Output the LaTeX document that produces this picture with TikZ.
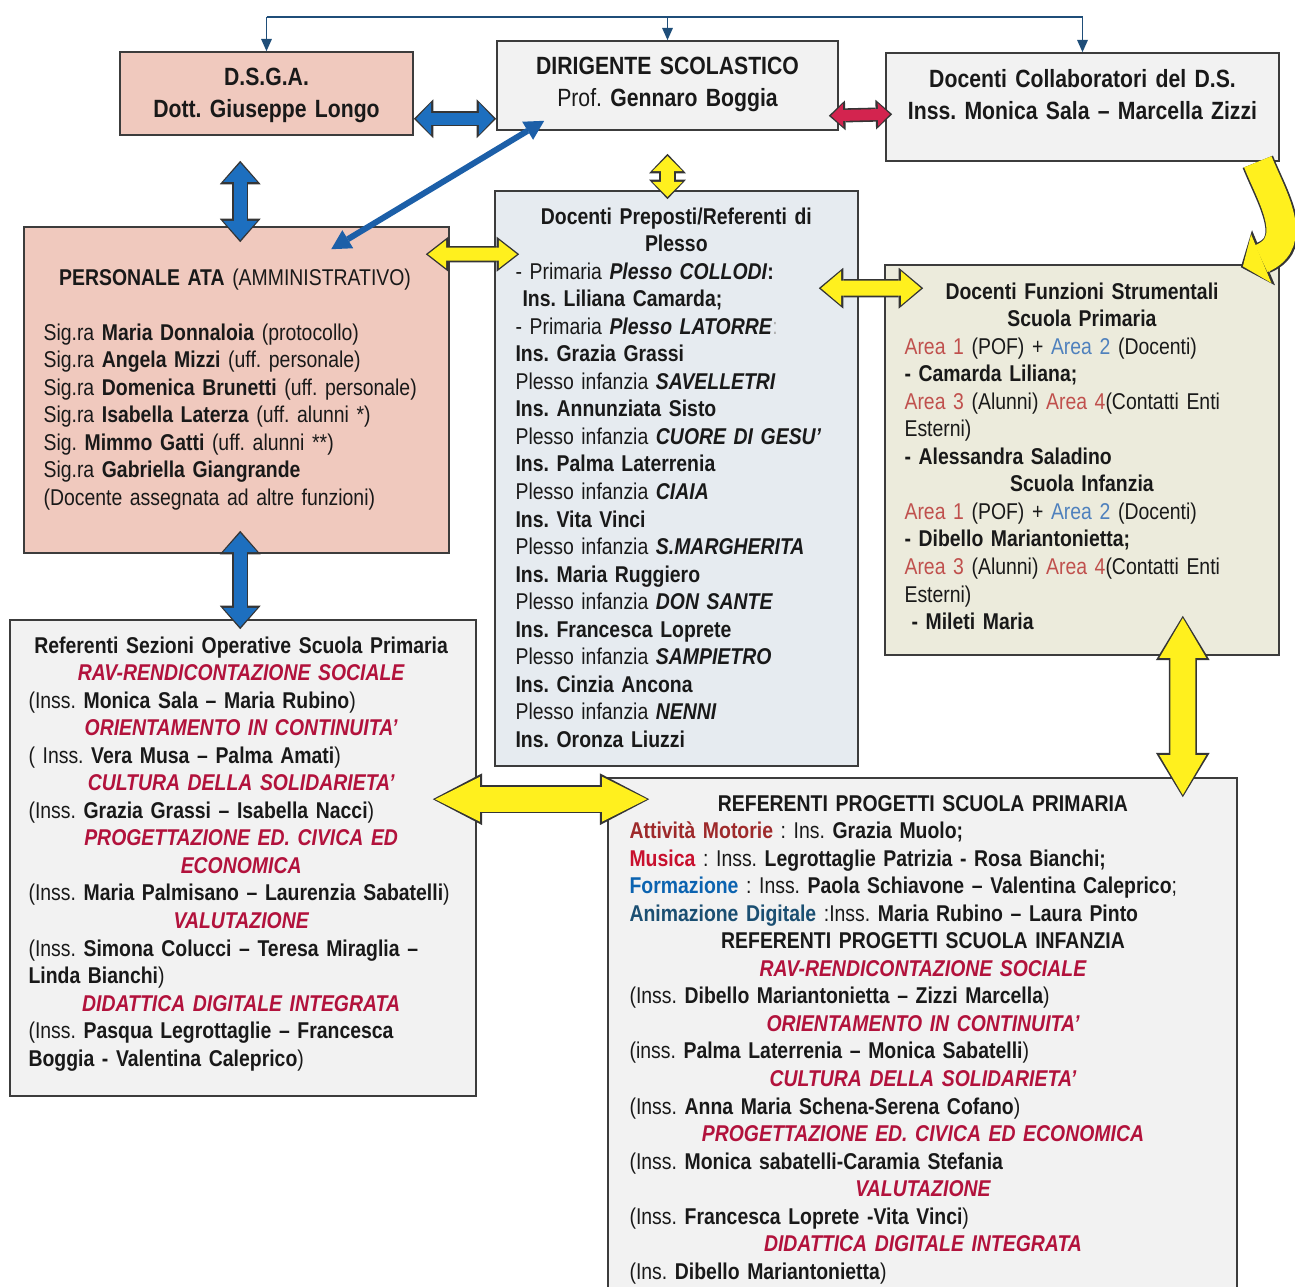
\documentclass[tikz,border=0pt]{standalone}
\usepackage{fontspec}
\setmainfont{Liberation Sans}[FakeStretch=0.85]
\usetikzlibrary{positioning,fit,calc,arrows.meta}

\definecolor{pinkfill}{HTML}{F0C9BE}
\definecolor{grayfill}{HTML}{F2F2F2}
\definecolor{prepfill}{HTML}{E6EBF0}
\definecolor{funzfill}{HTML}{ECEBDC}
\definecolor{boxline}{HTML}{3C3C3C}
\definecolor{outl}{HTML}{353535}
\definecolor{hdred}{HTML}{B2123C}
\definecolor{areared}{HTML}{C0504D}
\definecolor{areablue}{HTML}{4F81BD}
\definecolor{motorie}{HTML}{9E2A2B}
\definecolor{musica}{HTML}{C8102E}
\definecolor{formaz}{HTML}{0B63B0}
\definecolor{anim}{HTML}{1B4F72}
\definecolor{busblue}{HTML}{1F4E79}
\definecolor{fatblue}{HTML}{1D6FBF}
\definecolor{diagblue}{HTML}{1C5FA8}
\definecolor{fatyellow}{HTML}{FFF01E}
\definecolor{fatred}{HTML}{D3244F}

\frenchspacing
\newcommand{\ctrline}[1]{\makebox[\linewidth][c]{#1}}
\newcommand{\fillline}[1]{\makebox[\linewidth][s]{#1}}
\newcommand{\redhead}[1]{\ctrline{\color{hdred}\bfseries\itshape #1}}
\newcommand{\fatlink}[6]{%
  \pgfmathsetmacro\fw{#2*0.567}%
  \pgfmathsetmacro\fhw{#3*0.567}%
  \pgfmathsetmacro\fhl{#4*0.567}%
  \pgfmathsetmacro\ow{\fw+1.8}%
  \pgfmathsetmacro\ohw{\fhw+4}%
  \pgfmathsetmacro\ohl{\fhl+2.6}%
  \draw[draw=outl, line width=\ow pt,
    {Triangle[length=\ohl pt,width=\ohw pt,line width=0pt]}-{Triangle[length=\ohl pt,width=\ohw pt,line width=0pt]}] #5 -- #6;
  \draw[draw=#1, line width=\fw pt, shorten <=1.3pt, shorten >=1.3pt,
    {Triangle[length=\fhl pt,width=\fhw pt,line width=0pt]}-{Triangle[length=\fhl pt,width=\fhw pt,line width=0pt]}] #5 -- #6;
}

\begin{document}
\begin{tikzpicture}[x=0.02cm, y=-0.02cm,
    box/.style={draw=boxline, line width=0.9pt, inner sep=0pt},
    txt/.style={inner sep=0pt, align=left, text=black!90, font=\fontsize{13}{15.67}\selectfont},
    toptxt/.style={inner sep=0pt, align=center, text=black!90, font=\fontsize{14.2}{18.1}\selectfont\bfseries},
    bus/.style={draw=busblue, line width=0.9pt}
  ]
  \useasboundingbox (0,0) rectangle (1295,1287);
  \clip (0,0) rectangle (1295,1287);

  \node[box, fill=pinkfill, fit={(120,52) (413,135)}] (dsga) {};
  \node[box, fill=grayfill, fit={(497,41) (838,130)}] (dir) {};
  \node[box, fill=grayfill, fit={(886,53) (1279,161)}] (collab) {};
  \node[box, fill=pinkfill, fit={(24,227) (449,553)}] (ata) {};
  \node[box, fill=prepfill, fit={(495,191) (858,766)}] (prep) {};
  \node[box, fill=funzfill, fit={(885,265) (1279,655)}] (funz) {};
  \node[box, fill=grayfill, fit={(10,620) (476,1096)}] (sez) {};
  \node[box, fill=grayfill, fit={(608,778) (1237,1300)}] (prog) {};

  \coordinate (bus) at (0,17);
  \draw[bus] (dsga.north |- bus) -- (collab.north |- bus);
  \foreach \b in {dsga,dir,collab} {
    \draw[bus, -{Triangle[length=7pt,width=6pt]}] (\b.north |- bus) -- (\b.north);
  }

  \fatlink{fatblue}{12}{32}{15}{([shift={(0,-17)}]dsga.south east)}{([shift={(0,-12)}]dir.south west)}
  \fatlink{fatblue}{13}{34}{19}{([shift={(121,25)}]dsga.south west)}{([shift={(217,16)}]ata.north west)}
  \fatlink{fatblue}{13}{34}{19}{([shift={(217,-23)}]ata.south west)}{([shift={(231,10)}]sez.north west)}
  \fatlink{fatred}{11}{23}{12}{([shift={(-10,-15)}]dir.south east)}{([shift={(7,62)}]collab.north west)}
  \fatlink{fatyellow}{14}{30}{15}{([shift={(0,23)}]dir.south)}{([shift={(0,9)}]dir.south |- prep.north)}
  \fatlink{fatyellow}{13}{28}{18}{([shift={(-24,28)}]ata.north east)}{([shift={(25,64)}]prep.north west)}
  \fatlink{fatyellow}{15}{34}{20}{([shift={(-40,98)}]prep.north east)}{([shift={(39,24)}]funz.north west)}
  \fatlink{fatyellow}{25}{47}{40}{([shift={(-97,-40)}]funz.south east)}{([shift={(-55,20)}]prog.north east)}
  \fatlink{fatyellow}{25}{45}{45}{([shift={(-44,180)}]sez.north east)}{([shift={(42,22)}]prog.north west)}

  \draw[draw=diagblue, line width=3.4pt,
    {Triangle[length=11pt,width=12pt,line width=0pt]}-{Triangle[length=11pt,width=12pt,line width=0pt]}]
    ([shift={(48,-10)}]dir.south west) -- ([shift={(308,23)}]ata.north west);

  \draw[draw=outl, line width=18.6pt, -{Triangle[length=14pt,width=34pt,line width=0pt]}]
    ([shift={(-22,0)}]collab.south east) .. controls +(14,35) and +(60,-25) .. ([shift={(-39,3)}]funz.north east);
  \draw[draw=fatyellow, line width=16.8pt, shorten >=1.3pt, -{Triangle[length=11.3pt,width=30pt,line width=0pt]}]
    ([shift={(-22,0)}]collab.south east) .. controls +(14,35) and +(60,-25) .. ([shift={(-39,3)}]funz.north east);

  \node[toptxt, text width=170pt, anchor=base] (dsga-txt) at ([shift={(0,34)}]dsga.north)
    {D.S.G.A.\\Dott. Giuseppe Longo};
  \node[toptxt, text width=190pt, anchor=base] (dir-txt) at ([shift={(0,34)}]dir.north)
    {DIRIGENTE SCOLASTICO\\{\mdseries Prof.} Gennaro Boggia};
  \node[toptxt, text width=222pt, anchor=base] (collab-txt) at ([shift={(0,35)}]collab.north)
    {Docenti Collaboratori del D.S.\\Inss. Monica Sala – Marcella Zizzi};

  \node[txt, text width=218pt, anchor=base west] (ata-txt) at ([shift={(20,59)}]ata.north west) {%
    \ctrline{\textbf{PERSONALE ATA} (AMMINISTRATIVO)}\\[15.67pt]
    Sig.ra \textbf{Maria Donnaloia} (protocollo)\\
    Sig.ra \textbf{Angela Mizzi} (uff. personale)\\
    Sig.ra \textbf{Domenica Brunetti} (uff. personale)\\
    Sig.ra \textbf{Isabella Laterza} (uff. alunni *)\\
    Sig. \textbf{Mimmo Gatti} (uff. alunni **)\\
    Sig.ra \textbf{Gabriella Giangrande}\\
    (Docente assegnata ad altre funzioni)};

  \node[txt, text width=183pt, anchor=base west] (prep-txt) at ([shift={(21,34)}]prep.north west) {%
    \ctrline{\textbf{Docenti Preposti/Referenti di}}\\
    \ctrline{\textbf{Plesso}}\\
    - Primaria \textbf{\textit{Plesso COLLODI}:}\\
    \hspace*{4pt}\textbf{Ins. Liliana Camarda;}\\
    - Primaria \textbf{\textit{Plesso LATORRE}}{\color{black!30}:}\\
    \textbf{Ins. Grazia Grassi}\\
    Plesso infanzia \textbf{\textit{SAVELLETRI}}\\
    \textbf{Ins. Annunziata Sisto}\\
    Plesso infanzia \textbf{\textit{CUORE DI GESU'}}\\
    \textbf{Ins. Palma Laterrenia}\\
    Plesso infanzia \textbf{\textit{CIAIA}}\\
    \textbf{Ins. Vita Vinci}\\
    Plesso infanzia \textbf{\textit{S.MARGHERITA}}\\
    \textbf{Ins. Maria Ruggiero}\\
    Plesso infanzia \textbf{\textit{DON SANTE}}\\
    \textbf{Ins. Francesca Loprete}\\
    Plesso infanzia \textbf{\textit{SAMPIETRO}}\\
    \textbf{Ins. Cinzia Ancona}\\
    Plesso infanzia \textbf{\textit{NENNI}}\\
    \textbf{Ins. Oronza Liuzzi}};

  \node[txt, text width=202pt, anchor=base west] (funz-txt) at ([shift={(20,35)}]funz.north west) {%
    \ctrline{\textbf{Docenti Funzioni Strumentali}}\\
    \ctrline{\textbf{Scuola Primaria}}\\
    {\color{areared}Area 1} (POF) + {\color{areablue}Area 2} (Docenti)\\
    \textbf{- Camarda Liliana;}\\
    \fillline{{\color{areared}Area 3} (Alunni) {\color{areared}Area 4}(Contatti Enti}\\
    Esterni)\\
    \textbf{- Alessandra Saladino}\\
    \ctrline{\textbf{Scuola Infanzia}}\\
    {\color{areared}Area 1} (POF) + {\color{areablue}Area 2} (Docenti)\\
    \textbf{- Dibello Mariantonietta;}\\
    \fillline{{\color{areared}Area 3} (Alunni) {\color{areared}Area 4}(Contatti Enti}\\
    Esterni)\\
    \hspace*{4pt}\textbf{- Mileti Maria}};

  \node[txt, text width=242pt, anchor=base west] (sez-txt) at ([shift={(19,34)}]sez.north west) {%
    \ctrline{\textbf{Referenti Sezioni Operative Scuola Primaria}}\\
    \redhead{RAV-RENDICONTAZIONE SOCIALE}\\
    (Inss. \textbf{Monica Sala – Maria Rubino})\\
    \redhead{ORIENTAMENTO IN CONTINUITA'}\\
    ( Inss. \textbf{Vera Musa – Palma Amati})\\
    \redhead{CULTURA DELLA SOLIDARIETA'}\\
    (Inss. \textbf{Grazia Grassi – Isabella Nacci})\\
    \redhead{PROGETTAZIONE ED. CIVICA ED}\\
    \redhead{ECONOMICA}\\
    (Inss. \textbf{Maria Palmisano – Laurenzia Sabatelli})\\
    \redhead{VALUTAZIONE}\\
    (Inss. \textbf{Simona Colucci – Teresa Miraglia –}\\
    \textbf{Linda Bianchi})\\
    \redhead{DIDATTICA DIGITALE INTEGRATA}\\
    (Inss. \textbf{Pasqua Legrottaglie – Francesca}\\
    \textbf{Boggia - Valentina Caleprico})};

  \node[txt, text width=334pt, anchor=base west] (prog-txt) at ([shift={(22,34)}]prog.north west) {%
    \ctrline{\textbf{REFERENTI PROGETTI SCUOLA PRIMARIA}}\\
    {\color{motorie}\textbf{Attività Motorie}} : Ins. \textbf{Grazia Muolo;}\\
    {\color{musica}\textbf{Musica}} : Inss. \textbf{Legrottaglie Patrizia - Rosa Bianchi;}\\
    {\color{formaz}\textbf{Formazione}} : Inss. \textbf{Paola Schiavone – Valentina Caleprico};\\
    {\color{anim}\textbf{Animazione Digitale}} :Inss. \textbf{Maria Rubino – Laura Pinto}\\
    \ctrline{\textbf{REFERENTI PROGETTI SCUOLA INFANZIA}}\\
    \redhead{RAV-RENDICONTAZIONE SOCIALE}\\
    (Inss. \textbf{Dibello Mariantonietta – Zizzi Marcella})\\
    \redhead{ORIENTAMENTO IN CONTINUITA'}\\
    (inss. \textbf{Palma Laterrenia – Monica Sabatelli})\\
    \redhead{CULTURA DELLA SOLIDARIETA'}\\
    (Inss. \textbf{Anna Maria Schena-Serena Cofano})\\
    \redhead{PROGETTAZIONE ED. CIVICA ED ECONOMICA}\\
    (Inss. \textbf{Monica sabatelli-Caramia Stefania}\\
    \redhead{VALUTAZIONE}\\
    (Inss. \textbf{Francesca Loprete -Vita Vinci})\\
    \redhead{DIDATTICA DIGITALE INTEGRATA}\\
    (Ins. \textbf{Dibello Mariantonietta})};
\end{tikzpicture}
\end{document}
